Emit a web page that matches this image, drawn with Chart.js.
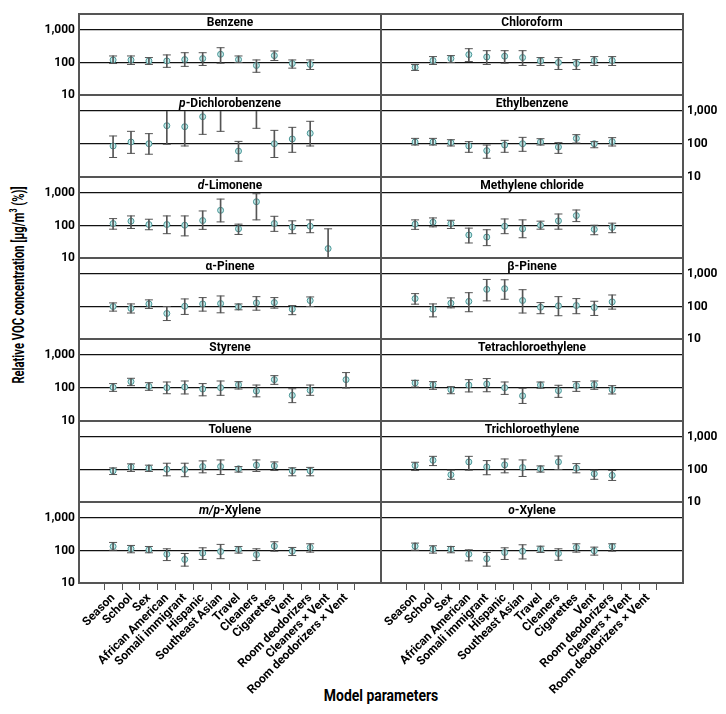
<!DOCTYPE html>
<html>
<head>
<meta charset="utf-8">
<script src="https://cdn.jsdelivr.net/npm/chart.js@4.4.1/dist/chart.umd.min.js"></script>
<style>
  body { margin: 0; background: #fff; }
  #wrap { position: relative; width: 726px; height: 714px; overflow: hidden; }
  #wrap canvas { position: absolute; left: 0; }
  .axis-title {
    position: absolute; white-space: nowrap; color: #000;
    font-family: Roboto, 'Liberation Sans', sans-serif; font-weight: bold;
  }
  #ytitle { left: 18px; top: 285px; font-size: 16px; transform: translate(-50%, -50%) rotate(-90deg) scaleX(0.7); }
  #xtitle { left: 381px; top: 695px; font-size: 17px; transform: translate(-50%, -50%) scaleX(0.82); }
  sup { font-size: 10px; }
</style>
</head>
<body>
<div id="wrap">
  <div id="ytitle" class="axis-title">Relative VOC concentration [µg/m<sup>3</sup> (%)]</div>
  <div id="xtitle" class="axis-title">Model parameters</div>
</div>
<script>
// model parameters on the x axis
const categories = ['Season', 'School', 'Sex', 'African American', 'Somali immigrant', 'Hispanic',
  'Southeast Asian', 'Travel', 'Cleaners', 'Cigarettes', 'Vent', 'Room deodorizers',
  'Cleaners × Vent', 'Room deodorizers × Vent'];
const yTicks = [10, 100, 1000];

// estimate, lower and upper limit per compound (%)
const benzeneEst  = [120, 120, 112, 112, 123, 132, 179, 123, 81, 163, 93, 87, null, null];
const benzeneLow  = [93, 87, 87, 71, 76, 81, 95, 100, 50, 115, 67, 61, null, null];
const benzeneHigh = [159, 159, 142, 171, 200, 200, 285, 159, 120, 226, 120, 120, null, null];

const chloroformEst  = [71, 115, 132, 175, 148, 156, 142, 112, 100, 93, 115, 115, null, null];
const chloroformLow  = [57, 87, 100, 107, 87, 95, 81, 81, 61, 61, 81, 81, null, null];
const chloroformHigh = [87, 152, 163, 266, 231, 231, 231, 142, 142, 123, 152, 152, null, null];

const pdcbEst  = [87, 115, 102, 359, 335, 673, 1500, 61, 1300, 102, 142, 211, null, null];
const pdcbLow  = [39, 52, 49, 98, 87, 196, 242, 30, 299, 39, 56, 87, null, null];
const pdcbHigh = [175, 242, 206, 1200, 1200, 1200, 4000, 120, 4000, 259, 320, 487, null, null];

const ethylbenzeneEst  = [115, 115, 110, 87, 63, 93, 102, 115, 81, 148, 102, 118, null, null];
const ethylbenzeneLow  = [93, 93, 87, 56, 37, 56, 60, 93, 52, 107, 77, 87, null, null];
const ethylbenzeneHigh = [148, 148, 135, 118, 93, 129, 159, 145, 110, 192, 118, 156, null, null];

const limoneneEst  = [115, 136, 107, 107, 102, 142, 293, 79, 538, 115, 89, 95, 19.5, null];
const limoneneLow  = [77, 81, 74, 56, 48, 76, 129, 53, 149, 66, 56, 60, 8, null];
const limoneneHigh = [163, 197, 156, 197, 197, 280, 650, 110, 950, 192, 139, 149, 79, null];

const methyleneEst  = [110, 126, 115, 51, 44, 95, 79, 102, 139, 202, 76, 87, null, null];
const methyleneLow  = [76, 91, 81, 29, 24, 56, 42, 77, 77, 132, 52, 60, null, null];
const methyleneHigh = [149, 171, 145, 83, 74, 159, 149, 136, 226, 300, 102, 118, null, null];

const aPineneEst  = [100, 87, 120, 61, 102, 120, 123, 98, 129, 132, 83, 152, null, null];
const aPineneLow  = [72, 63, 87, 37, 57, 72, 64, 79, 77, 89, 56, 100, null, null];
const aPineneHigh = [129, 120, 160, 100, 171, 188, 211, 120, 201, 188, 107, 197, null, null];

const bPineneEst  = [175, 83, 126, 143, 337, 354, 153, 95, 105, 107, 93, 139, null, null];
const bPineneLow  = [118, 48, 91, 69, 149, 167, 63, 60, 52, 60, 53, 83, null, null];
const bPineneHigh = [249, 120, 184, 266, 680, 664, 329, 132, 201, 175, 145, 226, null, null];

const styreneEst  = [105, 156, 112, 102, 107, 93, 102, 126, 81, 179, 60, 85, null, 179];
const styreneLow  = [79, 118, 85, 67, 66, 58, 60, 93, 54, 129, 36, 60, null, 100];
const styreneHigh = [136, 197, 145, 152, 163, 136, 163, 156, 123, 237, 95, 123, null, 293];

const tetraEst  = [142, 126, 89, 123, 132, 102, 58, 123, 83, 118, 126, 89, null, null];
const tetraLow  = [107, 91, 67, 76, 77, 64, 34, 98, 52, 79, 91, 66, null, null];
const tetraHigh = [171, 156, 110, 179, 193, 152, 98, 152, 121, 156, 163, 118, null, null];

const tolueneEst  = [91, 120, 110, 102, 100, 123, 123, 105, 136, 129, 91, 91, null, null];
const tolueneLow  = [70, 87, 87, 64, 60, 79, 70, 83, 87, 93, 64, 64, null, null];
const tolueneHigh = [112, 149, 136, 156, 156, 184, 197, 123, 197, 171, 113, 116, null, null];

const trichloroEst  = [132, 192, 69, 171, 120, 139, 115, 105, 171, 110, 74, 66, null, null];
const trichloroLow  = [93, 132, 50, 95, 69, 79, 61, 83, 100, 79, 50, 46, null, null];
const trichloroHigh = [167, 254, 95, 254, 188, 211, 197, 129, 260, 152, 95, 93, null, null];

const mpXyleneEst  = [133, 113, 105, 77, 53, 83, 93, 107, 75, 136, 95, 124, null, null];
const mpXyleneLow  = [102, 85, 85, 49, 33, 53, 56, 83, 49, 95, 70, 89, null, null];
const mpXyleneHigh = [177, 143, 133, 113, 81, 121, 154, 133, 113, 186, 124, 161, null, null];

const oXyleneEst  = [136, 110, 110, 77, 56, 87, 95, 110, 81, 124, 98, 133, null, null];
const oXyleneLow  = [102, 83, 85, 48, 33, 53, 55, 87, 50, 89, 72, 95, null, null];
const oXyleneHigh = [169, 140, 133, 105, 87, 121, 150, 136, 113, 161, 127, 161, null, null];

// row by row, left then right; prefix is set in italics
const panels = [
  { prefix: '', name: 'Benzene', est: benzeneEst, low: benzeneLow, high: benzeneHigh },
  { prefix: '', name: 'Chloroform', est: chloroformEst, low: chloroformLow, high: chloroformHigh },
  { prefix: 'p', name: '-Dichlorobenzene', est: pdcbEst, low: pdcbLow, high: pdcbHigh },
  { prefix: '', name: 'Ethylbenzene', est: ethylbenzeneEst, low: ethylbenzeneLow, high: ethylbenzeneHigh },
  { prefix: 'd', name: '-Limonene', est: limoneneEst, low: limoneneLow, high: limoneneHigh },
  { prefix: '', name: 'Methylene chloride', est: methyleneEst, low: methyleneLow, high: methyleneHigh },
  { prefix: '', name: 'α-Pinene', est: aPineneEst, low: aPineneLow, high: aPineneHigh },
  { prefix: '', name: 'β-Pinene', est: bPineneEst, low: bPineneLow, high: bPineneHigh },
  { prefix: '', name: 'Styrene', est: styreneEst, low: styreneLow, high: styreneHigh },
  { prefix: '', name: 'Tetrachloroethylene', est: tetraEst, low: tetraLow, high: tetraHigh },
  { prefix: '', name: 'Toluene', est: tolueneEst, low: tolueneLow, high: tolueneHigh },
  { prefix: '', name: 'Trichloroethylene', est: trichloroEst, low: trichloroLow, high: trichloroHigh },
  { prefix: 'm/p', name: '-Xylene', est: mpXyleneEst, low: mpXyleneLow, high: mpXyleneHigh },
  { prefix: 'o', name: '-Xylene', est: oXyleneEst, low: oXyleneLow, high: oXyleneHigh }
];

const FONT = "Roboto, 'Liberation Sans', sans-serif";
Chart.defaults.font.family = FONT;
Chart.defaults.font.weight = 'bold';
Chart.defaults.color = '#000';

const W = 726;
const TOP = 14, PITCH = 81.3, TITLE_H = 16, XAXIS_H = 125, MARGIN = 8;
const ROWS = 7;
const LEFT_AXIS = 79, SPLIT = 381, RIGHT_AXIS = 43;

// title strip + panel frame
const panelPlugin = {
  id: 'panel',
  afterDraw(chart, args, opts) {
    const { ctx, chartArea: a } = chart;
    ctx.save();
    const cx = (a.left + a.right) / 2;
    const cy = a.top - TITLE_H / 2 + 1;
    const italic = 'italic bold 12px ' + FONT;
    const bold = 'bold 12px ' + FONT;
    ctx.font = italic;
    const w1 = opts.prefix ? ctx.measureText(opts.prefix).width : 0;
    ctx.font = bold;
    const w2 = ctx.measureText(opts.name).width;
    const x = cx - (w1 + w2) / 2;
    ctx.textAlign = 'left';
    ctx.textBaseline = 'middle';
    ctx.fillStyle = '#000';
    if (opts.prefix) {
      ctx.font = italic;
      ctx.fillText(opts.prefix, x, cy);
    }
    ctx.font = bold;
    ctx.fillText(opts.name, x + w1, cy);

    ctx.strokeStyle = '#555';
    ctx.lineWidth = 2;
    ctx.strokeRect(a.left, a.top - TITLE_H, a.right - a.left, a.bottom - a.top + TITLE_H);
    ctx.restore();
  }
};

const zeroPad = s => { s.paddingLeft = s.paddingRight = s.paddingTop = s.paddingBottom = 0; };

const wrap = document.getElementById('wrap');

panels.forEach((p, k) => {
  const row = Math.floor(k / 2), col = k % 2;
  const top = Math.round(TOP + row * PITCH);
  const panelH = Math.round(TOP + (row + 1) * PITCH) - top;
  const isBottom = row === ROWS - 1;
  const showY = col === 0 ? row % 2 === 0 : row % 2 === 1;

  // full-width transparent canvas with a margin above and below, so labels are not cut
  const canvas = document.createElement('canvas');
  canvas.width = W;
  canvas.height = MARGIN + panelH + (isBottom ? XAXIS_H : MARGIN);
  canvas.style.top = (top - MARGIN) + 'px';
  wrap.appendChild(canvas);

  const whiskers = [], caps = [], points = [];
  categories.forEach((c, i) => {
    if (p.low[i] != null) {
      whiskers.push({ x: i, y: [p.low[i], p.high[i]] });
      caps.push({ x: i, y: p.low[i] }, { x: i, y: p.high[i] });
    }
    if (p.est[i] != null) points.push({ x: i, y: p.est[i] });
  });

  new Chart(canvas, {
    type: 'scatter',
    data: {
      datasets: [
        { type: 'bar', data: whiskers, barThickness: 1, backgroundColor: '#555', clip: 0 },
        { data: caps, pointStyle: 'line', pointRadius: 4, borderColor: '#555', borderWidth: 1, clip: 0 },
        { data: points, pointStyle: 'circle', pointRadius: 3, backgroundColor: '#c4eeee',
          borderColor: '#4a9494', borderWidth: 1, clip: 0 }
      ]
    },
    options: {
      responsive: false,
      animation: false,
      layout: {
        padding: {
          top: MARGIN + TITLE_H,
          bottom: isBottom ? 0 : MARGIN,
          left: col === 0 ? 0 : SPLIT,
          right: col === 0 ? W - SPLIT : 0
        }
      },
      plugins: {
        legend: { display: false },
        tooltip: { enabled: false },
        panel: { prefix: p.prefix, name: p.name }
      },
      scales: {
        x: {
          type: 'linear', min: -1.3, max: 14.35, display: isBottom,
          afterBuildTicks: s => { s.ticks = categories.map((c, i) => ({ value: i })); },
          afterFit: s => { zeroPad(s); if (isBottom) s.height = XAXIS_H; },
          border: { display: false },
          grid: { drawOnChartArea: false, tickLength: 7, color: '#555' },
          ticks: {
            autoSkip: false, minRotation: 45, maxRotation: 45, padding: 1,
            font: { size: 12, weight: 'bold' }, color: '#000',
            callback: v => categories[v]
          }
        },
        y: {
          type: 'logarithmic', min: 10, max: 1000,
          position: col === 0 ? 'left' : 'right',
          afterBuildTicks: s => { s.ticks = yTicks.map(v => ({ value: v })); },
          afterFit: s => { zeroPad(s); s.width = col === 0 ? LEFT_AXIS : RIGHT_AXIS; },
          border: { display: false },
          grid: { color: '#111', lineWidth: 1.2, drawTicks: false },
          ticks: {
            display: showY, padding: 4,
            font: { size: 12, weight: 'bold' }, color: '#000',
            callback: v => v.toLocaleString('en-US')
          }
        }
      }
    },
    plugins: [panelPlugin]
  });
});
</script>
</body>
</html>
